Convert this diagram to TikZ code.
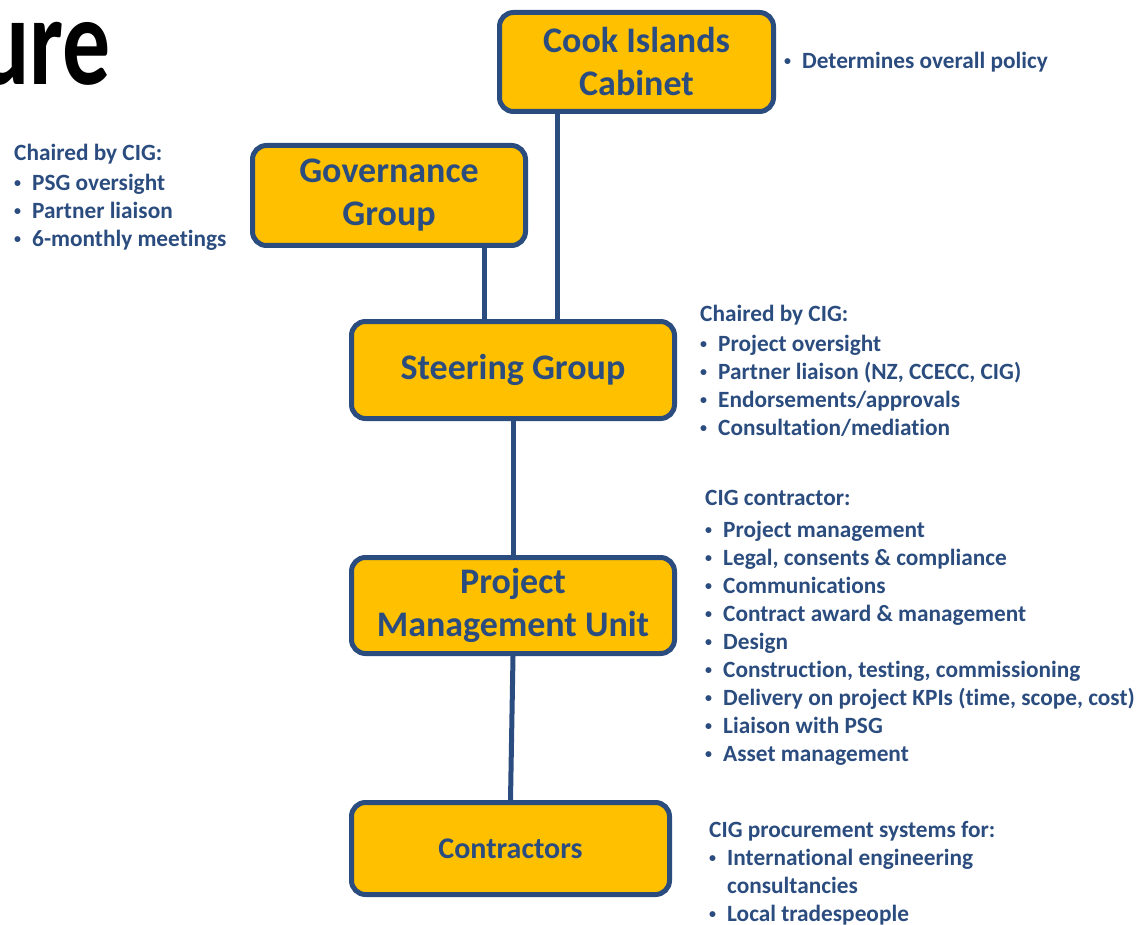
\documentclass[tikz,border=0pt]{standalone}
\usepackage{fontspec}
\setmainfont{Carlito}[Ligatures=NoCommon]
\usetikzlibrary{positioning}
\definecolor{boxfill}{HTML}{FFC000}
\definecolor{navy}{HTML}{2B4C7E}
\newcommand{\itm}[1]{\makebox[18pt][l]{\raisebox{0.13em}{\scalebox{0.6}{\textbullet}}}#1}
\tikzset{
    unit/.style = {draw=navy, fill=boxfill, line width=5pt, rounded corners=14pt, align=center, text=navy, inner sep=0pt, font=\bfseries\fontsize{36}{43}\selectfont},
    link/.style = {draw=navy, line width=5pt},
    note/.style = {anchor=north west, align=left, text=navy, inner sep=0pt, font=\bfseries\fontsize{23.3}{28}\selectfont}
}

\begin{document}
\begin{tikzpicture}[x=1pt, y=-1pt]
\clip (0,0) rectangle (1143,925);
\useasboundingbox (0,0) rectangle (1143,925);

% Title, cut at the left edge
\node[anchor=base east, inner sep=0pt, font=\bfseries\fontsize{126}{130}\selectfont] (title) at (111, 85) {\scalebox{0.76}[1]{ure}};

% Boxes
\node[unit, minimum width=274, minimum height=99] (cabinet) at (636.5, 62) {Cook Islands\\Cabinet};
\node[unit, minimum width=273, minimum height=100] (governance) at (389, 195.5) {Governance\\Group};
\node[unit, minimum width=323, minimum height=97] (steering) at (513, 370) {Steering Group};
\node[unit, minimum width=323, minimum height=96] (pmu) at (513, 605.5) {Project\\Management Unit};
\node[unit, minimum width=318, minimum height=92, font=\bfseries\fontsize{30}{36}\selectfont] (contractors) at (510.5, 848.5) {Contractors};

% Links
\draw[link] ([xshift=-79.5pt]cabinet.south) -- ([xshift=-79.5pt]cabinet.south |- steering.north);
\draw[link] ([xshift=95pt]governance.south) -- ([xshift=95pt]governance.south |- steering.north);
\draw[link] (steering.south) -- (pmu.north);
\draw[link] (pmu.south) -- (contractors.north);

% Notes
\node[note] (cabinetnote) at (784, 52) {\itm{Determines overall policy}};
\node[note] (govnote) at (14, 144) {Chaired by CIG:\\[2pt]
    \itm{PSG oversight}\\
    \itm{Partner liaison}\\
    \itm{6-monthly meetings}};
\node[note] (steernote) at (700, 305) {Chaired by CIG:\\[2pt]
    \itm{Project oversight}\\
    \itm{Partner liaison (NZ, CCECC, CIG)}\\
    \itm{Endorsements/approvals}\\
    \itm{Consultation/mediation}};
\node[note] (pmunote) at (705, 490) {CIG contractor:\\[4pt]
    \itm{Project management}\\
    \itm{Legal, consents \& compliance}\\
    \itm{Communications}\\
    \itm{Contract award \& management}\\
    \itm{Design}\\
    \itm{Construction, testing, commissioning}\\
    \itm{Delivery on project KPIs (time, scope, cost)}\\
    \itm{Liaison with PSG}\\
    \itm{Asset management}};
\node[note] (contrnote) at (709, 821) {CIG procurement systems for:\\
    \itm{International engineering}\\
    \hspace*{18pt}consultancies\\
    \itm{Local tradespeople}};
\end{tikzpicture}
\end{document}
